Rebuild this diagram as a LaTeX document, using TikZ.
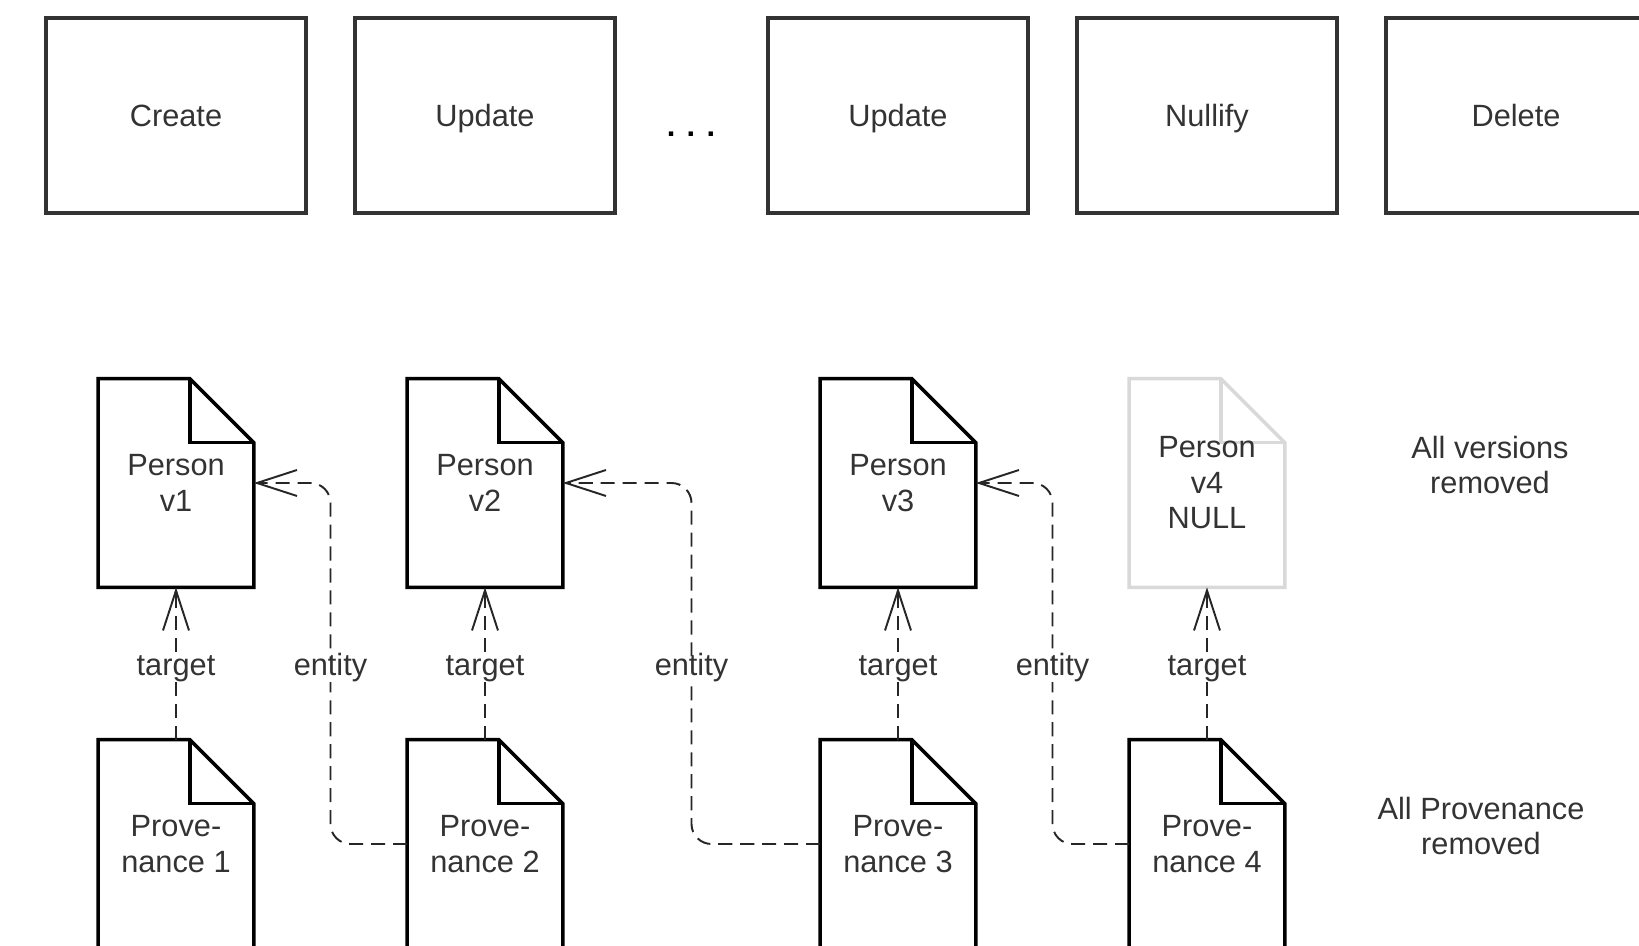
\documentclass[tikz,border=0pt]{standalone}
\usepackage{fontspec}
\setmainfont{Liberation Sans}
\usetikzlibrary{arrows.meta, positioning, calc, backgrounds}

% outline of a page with a folded corner, drawn round a doc node
\newcommand{\docoutline}[2][black]{%
  \draw[#1, line width=2pt] (#2.north west) -- ([xshift=-1.28cm]#2.north east) -- ([yshift=-1.28cm]#2.north east) -- (#2.south east) -- (#2.south west) -- cycle;
  \draw[#1, line width=2pt] ([xshift=-1.28cm]#2.north east) |- ([yshift=-1.28cm]#2.north east);
}

\begin{document}
\begin{tikzpicture}[node distance=6.18cm, >={Straight Barb[length=0.8cm, width=0.52cm]}, font=\fontsize{17.5}{20.2}\selectfont, text=black!80]

		% Define block styles
		\tikzstyle{action} = [rectangle, draw=black!80, line width=1.9pt, minimum width=5.2cm, minimum height=3.9cm, text height=12.6pt, text depth=0pt, text centered]
		\tikzstyle{doc} = [rectangle, minimum width=3.1cm, minimum height=4.16cm, inner sep=0pt, align=center]
		\tikzstyle{link} = [->, draw=black!85, line width=1.1pt, dash pattern=on 8pt off 4.5pt]
		\tikzstyle{tag} = [fill=white, inner sep=2pt, text height=0.72em, text depth=0.2em, yshift=-0.14cm]

		\useasboundingbox (0,0) rectangle (32.78,-18.92);
		\clip (0,0) rectangle (32.78,-18.92);

		% Actions
		\node[action] (create) at (3.52,-2.31) {Create};
		\node[action, right of=create] (update1) {Update};
		\node[right of=update1, node distance=4.12cm, yshift=-0.37cm, text=black, font=\fontsize{17.5}{20.2}\selectfont\bfseries] (dots) {. . .};
		\node[action, right of=update1, node distance=8.26cm] (update2) {Update};
		\node[action, right of=update2] (nullify) {Nullify};
		\node[action, right of=nullify] (delete) {Delete};

		% Versions
		\node[doc, below of=create, node distance=7.35cm] (person1) {Person\\v1};
		\node[doc, below of=update1, node distance=7.35cm] (person2) {Person\\v2};
		\node[doc, below of=update2, node distance=7.35cm] (person3) {Person\\v3};
		\node[doc, below of=nullify, node distance=7.35cm] (person4) {Person\\v4\\NULL};

		% Provenance
		\node[doc, below of=person1, node distance=7.22cm] (prov1) {Prove-\\nance 1};
		\node[doc, below of=person2, node distance=7.22cm] (prov2) {Prove-\\nance 2};
		\node[doc, below of=person3, node distance=7.22cm] (prov3) {Prove-\\nance 3};
		\node[doc, below of=person4, node distance=7.22cm] (prov4) {Prove-\\nance 4};

		\begin{pgfonlayer}{background}
		\docoutline{person1}
		\docoutline{person2}
		\docoutline{person3}
		\docoutline[black!15]{person4}
		\docoutline{prov1}
		\docoutline{prov2}
		\docoutline{prov3}
		\docoutline{prov4}
		\end{pgfonlayer}

		% Arrows
		\draw[link] (prov1) -- (person1) node[midway, tag] {target};
		\draw[link] (prov2) -- (person2) node[midway, tag] {target};
		\draw[link] (prov3) -- (person3) node[midway, tag] {target};
		\draw[link] (prov4) -- (person4) node[midway, tag] {target};

		\coordinate (bend1) at ($(person1.east)!0.5!(prov2.west)$);
		\coordinate (bend2) at ($(person2.east)!0.5!(prov3.west)$);
		\coordinate (bend3) at ($(person3.east)!0.5!(prov4.west)$);
		\draw[link, rounded corners=0.4cm] (prov2.west) -| (bend1) |- (person1.east);
		\draw[link, rounded corners=0.4cm] (prov3.west) -| (bend2) |- (person2.east);
		\draw[link, rounded corners=0.4cm] (prov4.west) -| (bend3) |- (person3.east);
		\node[tag] at (bend1) {entity};
		\node[tag] at (bend2) {entity};
		\node[tag] at (bend3) {entity};

		% Labels
		\node[right of=person4, node distance=5.66cm, yshift=0.36cm, align=center] (versionsnote) {All versions\\removed};
		\node[right of=prov4, node distance=5.48cm, yshift=0.36cm, align=center] (provnote) {All Provenance\\removed};

	\end{tikzpicture}
\end{document}
